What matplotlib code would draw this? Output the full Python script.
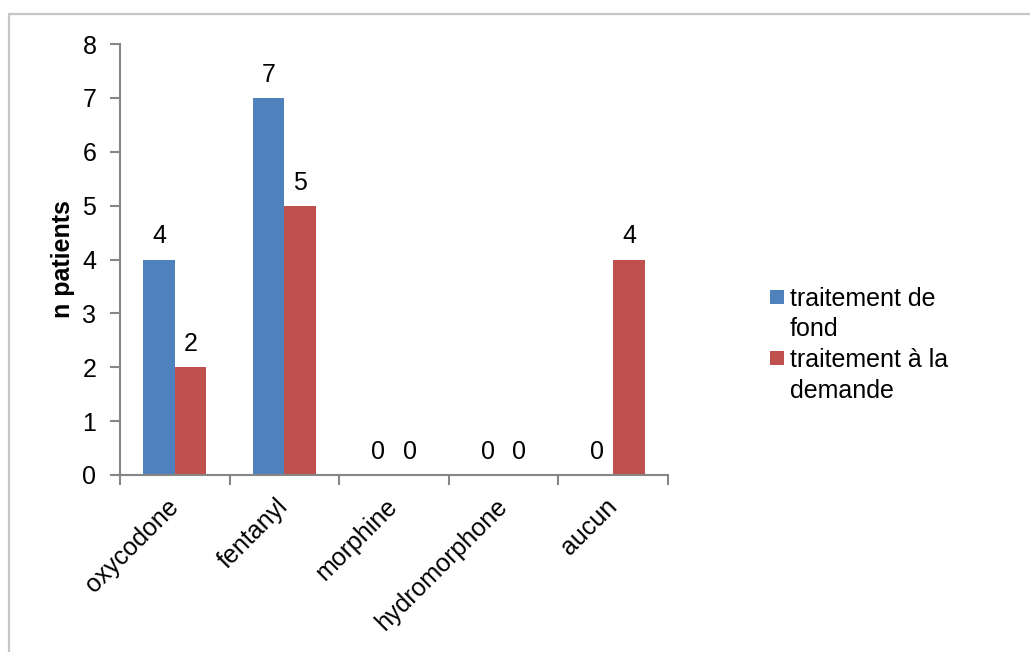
import matplotlib
matplotlib.use("Agg")
import matplotlib.pyplot as plt
import numpy as np
from matplotlib.patches import Rectangle

categories = ["oxycodone", "fentanyl", "morphine", "hydromorphone", "aucun"]
series_lines = [["traitement de", "fond"], ["traitement à la", "demande"]]
fond = [4, 7, 0, 0, 0]
demande = [2, 5, 0, 0, 4]
yticks = [0, 1, 2, 3, 4, 5, 6, 7, 8]

plt.rcParams['font.family'] = ['Liberation Sans', 'DejaVu Sans']
FS = 18

fig = plt.figure(figsize=(10.30, 6.52), dpi=100)
ax = fig.add_axes([120/1030, 1 - 475/652, (668-120)/1030, (475-44)/652])

# outer frame
fig.patches.append(Rectangle((9/1030, -0.05), 1.2, (652-14)/652 + 0.05,
                             transform=fig.transFigure, fill=False,
                             edgecolor="#c6c6c6", linewidth=1.6))

x = np.arange(len(categories))
w = 0.288
blue = "#4f81bd"
red = "#c0504d"
b1 = ax.bar(x - w/2, fond, w, color=blue)
b2 = ax.bar(x + w/2, demande, w, color=red)

for bars in (b1, b2):
    for r in bars:
        h = r.get_height()
        ax.annotate(f"{int(h)}", (r.get_x() + r.get_width()/2, h),
                    xytext=(0, 8), textcoords="offset points",
                    ha="center", va="bottom", fontsize=FS)

ax.set_xlim(-0.5, len(categories) - 0.5)
ax.set_ylim(0, 8)
ax.set_yticks(yticks)
ax.set_yticklabels([str(t) for t in yticks], fontsize=FS)
ax.set_xticks(x)
ax.set_xticklabels(categories, rotation=45, ha="right", va="center",
                   rotation_mode="anchor", fontsize=FS)
ax.tick_params(axis="x", length=0, pad=20)
# category boundary ticks
ax.set_xticks(np.arange(len(categories) + 1) - 0.5, minor=True)
ax.tick_params(axis="x", which="minor", length=7, width=1.5, color="#868686")
ax.tick_params(axis="y", length=7, width=1.5, color="#868686", pad=10)

for s in ["top", "right"]:
    ax.spines[s].set_visible(False)
for s in ["left", "bottom"]:
    ax.spines[s].set_color("#868686")
    ax.spines[s].set_linewidth(1.5)

ax.set_ylabel("n patients", fontsize=FS, fontweight="bold", labelpad=5)

blank = Rectangle((0, 0), 1, 1, alpha=0)
handles = [b1, blank, b2, blank]
labels = [series_lines[0][0], series_lines[0][1],
          series_lines[1][0], series_lines[1][1]]
fig.legend(handles=handles, labels=labels, loc="upper left",
           bbox_to_anchor=(770/1030, 1 - 287/652), frameon=False,
           fontsize=FS, handlelength=0.55, handleheight=0.52,
           handletextpad=0.25, labelspacing=0.26, borderpad=0,
           borderaxespad=0)

fig.savefig("out.png", dpi=100)
